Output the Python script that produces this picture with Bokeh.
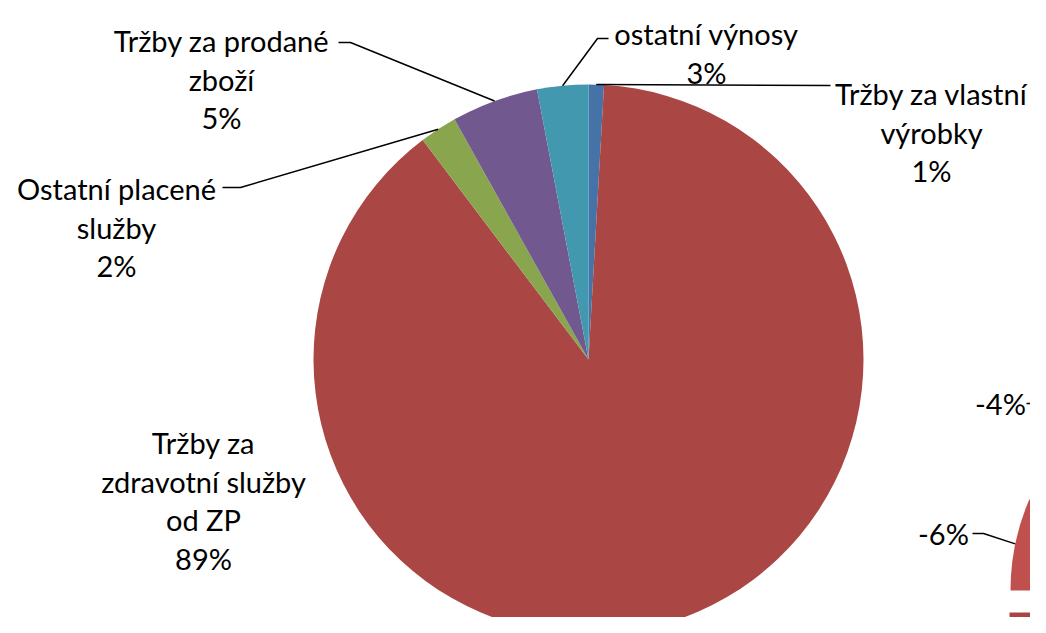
import math
from bokeh.plotting import figure
from bokeh.models import Range1d
from bokeh.core.properties import value
from bokeh.embed import file_html
from bokeh.resources import INLINE

# ---------------- data ----------------
categories = [
    "Tržby za vlastní\nvýrobky",
    "Tržby za\nzdravotní služby\nod ZP",
    "Ostatní placené\nslužby",
    "Tržby za prodané\nzboží",
    "ostatní výnosy",
]
shares = [0.9, 88.8, 2.2, 5.1, 3.0]
colors = ["#4572A7", "#AA4643", "#89A54E", "#71588F", "#4198AF"]

# second (cut-off) chart on the right edge
right_labels = ["", "-6%", "-4%"]
right_shares = [25.0, 6.5, 4.0]
right_colors = ["#A94643", "#C0504D", "#C0504D"]

# ---------------- layout (reference pixel coords, y down) ----------------
W, H = 1046, 633
M = 8
PW, PH = W - 2 * M, H - 2 * M
FONT = "Lato"
FS = 29
PITCH = 38.5

def Y(yref):
    return H - yref

p = figure(width=PW, height=PH, output_backend="svg",
           toolbar_location=None, x_range=Range1d(0, PW),
           y_range=Range1d(Y(PH), Y(0)), min_border=0)
p.axis.visible = False
p.grid.visible = False
p.outline_line_color = None
p.background_fill_color = "white"
p.border_fill_color = "white"

# main pie
cx, cy, R = 588, 359, 275
cum = 0.0
starts, ends, mids = [], [], []
for v in shares:
    a0 = 90 - cum * 3.6
    cum += v
    a1 = 90 - cum * 3.6
    starts.append(math.radians(a0))
    ends.append(math.radians(a1))
    mids.append(math.radians((a0 + a1) / 2))
p.wedge(x=[cx] * len(shares), y=[Y(cy)] * len(shares), radius=R,
        start_angle=starts, end_angle=ends, direction="clock",
        fill_color=colors, line_color=None)

# label anchors: (center x, first baseline y) and leader knee points
label_pos = [(931, 93), (203, 442), (116, 188), (221, 40), (706, 33)]
knees = [
    [(830, 85)],
    None,
    [(222, 187), (240, 187)],
    [(338, 42), (350, 42)],
    [(608, 38), (597, 38)],
]

for cat, v, (lx, ly), knee, m in zip(categories, shares, label_pos, knees, mids):
    lines = cat.split("\n") + [f"{round(v)}%"]
    p.text(x=[lx] * len(lines), y=[Y(ly + i * PITCH) for i in range(len(lines))],
           text=lines, text_align="center", text_baseline="alphabetic",
           text_font=value(FONT), text_font_size=f"{FS}px", text_color="black")
    if knee:
        ex = cx + R * math.cos(m)
        ey = cy - R * math.sin(m)
        pts = knee + [(ex, ey)]
        p.line([q[0] for q in pts], [Y(q[1]) for q in pts],
               line_color="black", line_width=1.5)

# right cut-off pie (exploded slices)
rcenters = [(1239, 612), (1240, 590), (1257, 578)]
rR = 230
base = 180 + right_shares[0] * 3.6
cum = 0.0
for lab, v, col, (rx, ry) in zip(right_labels, right_shares, right_colors, rcenters):
    a0 = base - cum * 3.6
    cum += v
    a1 = base - cum * 3.6
    p.wedge(x=[rx], y=[Y(ry)], radius=rR, start_angle=math.radians(a0),
            end_angle=math.radians(a1), direction="clock",
            fill_color=col, line_color=None)

right_label_pos = [None, (943, 533), (1000, 403)]
right_knees = [None, [(972, 533), (983, 533)], [(1026, 403), (1060, 403)]]
for lab, v, lp, kn, (rx, ry), i in zip(right_labels, right_shares, right_label_pos,
                                     right_knees, rcenters, range(3)):
    if not lp:
        continue
    p.text(x=[lp[0]], y=[Y(lp[1])], text=[lab], text_align="center",
           text_baseline="alphabetic", text_font=value(FONT),
           text_font_size=f"{FS}px", text_color="black")
    pts = list(kn)
    if i == 1:
        c0 = base - sum(right_shares[:1]) * 3.6
        mid = math.radians(c0 - v * 1.8)
        pts.append((rx + rR * math.cos(mid), ry - rR * math.sin(mid)))
    p.line([q[0] for q in pts], [Y(q[1]) for q in pts],
           line_color="black", line_width=1.5)

open("out.html", "w").write(file_html(p, INLINE))
